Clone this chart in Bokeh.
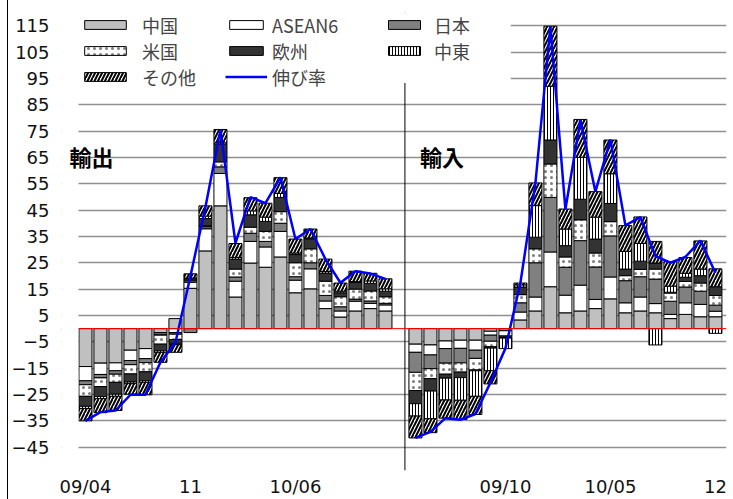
import numpy as np
from bokeh.plotting import figure
from bokeh.models import (Range1d, FixedTicker, Span, BoxAnnotation, Label,
                          Legend, LegendItem, ColumnDataSource)
from bokeh.embed import file_html
from bokeh.resources import INLINE

# ---------------- data ----------------
months = ["09/04", "09/05", "09/06", "09/07", "09/08", "09/09", "09/10", "09/11",
          "09/12", "10/01", "10/02", "10/03", "10/04", "10/05", "10/06", "10/07",
          "10/08", "10/09", "10/10", "10/11", "10/12"]
series_names = ["中国", "ASEAN6", "日本", "米国", "欧州", "中東", "その他"]

# exports (輸出) contributions
exp_china = [-14.4, -13.1, -13.0, -8.2, -7.6, -1.5, 3.8, 15.3, 29.5, 46.6, 12.0, 24.9, 23.3, 27.2, 13.6, 15.1, 7.6, 4.4, 6.7, 7.6, 6.7]
exp_asean = [-5.4, -4.3, -3.0, -3.9, -3.8, -0.6, -1.5, 2.3, 8.4, 12.3, 6.0, 8.2, 7.7, 9.7, 4.8, 7.6, 2.9, 2.3, 3.7, 2.0, 2.3]
exp_japan = [-1.5, -1.3, -1.3, -1.6, -1.5, -0.4, -0.6, -1.5, 0.8, 2.5, 1.6, 3.1, 2.1, 3.1, 1.3, 2.3, 2.1, 1.6, 0.8, 0.9, 0.6]
exp_us = [-4.4, -3.3, -3.1, -3.5, -3.5, -3.4, -2.1, 0.5, 0.3, 1.9, 3.0, 2.3, 3.8, 4.4, 5.3, 5.3, 5.4, 3.8, 3.8, 3.8, 2.5]
exp_eu = [-3.8, -3.8, -4.5, -3.1, -3.4, -2.5, -1.4, 0.8, 2.8, 6.7, 3.8, 4.7, 3.8, 5.4, 3.1, 3.8, 3.1, 1.5, 2.5, 2.9, 2.1]
exp_me = [-0.8, -0.8, -0.8, -0.6, -0.6, -0.6, -0.5, 0.3, 0.9, 0.5, 0.6, 1.5, 1.6, 1.5, 0.6, 0.3, 0.6, 0.6, 0.4, 0.9, 0.9]
exp_other = [-4.7, -5.3, -5.4, -4.0, -4.7, -3.8, -2.9, 1.6, 3.9, 5.1, 5.3, 5.0, 5.3, 6.0, 5.3, 3.4, 4.7, 3.1, 3.9, 2.9, 3.8]
exp_growth = [-35.0, -31.7, -31.1, -25.1, -25.1, -12.8, -5.3, 20.0, 46.2, 75.5, 32.5, 49.9, 47.6, 57.4, 34.0, 37.8, 26.4, 17.4, 21.8, 20.9, 18.9]

# imports (輸入) contributions
imp_china = [-5.9, -6.2, -4.7, -4.4, -4.4, -1.0, -0.8, 3.3, 6.7, 15.9, 6.0, 6.7, 7.6, 11.3, 6.0, 6.7, 6.0, 3.8, 5.4, 4.5, 4.5]
imp_asean = [-3.1, -3.8, -2.9, -3.1, -3.8, -1.5, -2.0, 3.0, 5.3, 13.2, 6.7, 9.8, 3.5, 8.3, 3.8, 5.3, 3.5, 1.6, 4.4, 4.7, 2.1]
imp_japan = [-7.6, -5.2, -5.5, -5.5, -3.1, -2.3, -0.3, 3.5, 13.0, 20.7, 10.6, 16.9, 12.3, 15.6, 8.4, 7.7, 9.3, 5.0, 6.0, 5.0, 2.3]
imp_us = [-6.9, -3.8, -4.2, -3.5, -4.4, -2.1, -0.3, 3.1, 5.3, 12.7, 3.9, 7.9, 5.3, 5.4, 1.9, 2.8, 3.8, 3.1, 2.1, 3.1, 3.7]
imp_eu = [-5.0, -4.7, -1.5, -2.1, -0.3, -0.5, -0.2, 2.9, 4.4, 9.1, 4.3, 7.8, 5.3, 6.9, 2.5, 3.1, 2.3, 0.3, 1.6, 2.8, 3.3]
imp_me = [-4.7, -10.5, -8.3, -8.6, -9.7, -8.6, -4.0, 0.8, 12.0, 20.4, 6.3, 15.9, 8.3, 11.3, 6.7, 6.7, -6.2, 2.3, 1.5, 2.5, -1.8]
imp_other = [-8.3, -5.3, -6.9, -7.3, -6.9, -5.0, 0.0, 0.7, 8.6, 22.8, 7.6, 14.4, 9.7, 12.8, 9.8, 10.1, 8.2, 9.3, 6.0, 10.7, 6.8]
imp_growth = [-41.5, -39.2, -34.0, -34.6, -32.4, -20.5, -7.5, 17.4, 55.2, 114.7, 45.3, 79.3, 52.0, 71.8, 39.2, 42.3, 27.5, 25.0, 27.2, 33.4, 21.2]

tick_labels = {0: "09/04", 7: "11", 14: "10/06", 28: "09/10", 35: "10/05", 42: "12"}
y_ticks = list(range(-45, 116, 10))

# ---------------- layout of slots ----------------
n = len(months)
x_exp = np.arange(n)
x_imp = np.arange(n) + n + 1
x_all = np.concatenate([x_exp, x_imp])

exp_series = [exp_china, exp_asean, exp_japan, exp_us, exp_eu, exp_me, exp_other]
imp_series = [imp_china, imp_asean, imp_japan, imp_us, imp_eu, imp_me, imp_other]

styles = [
    dict(fill_color="#c0c0c0", hatch_pattern=None),
    dict(fill_color="white", hatch_pattern=None),
    dict(fill_color="#808080", hatch_pattern=None),
    dict(fill_color="white", hatch_pattern="dot", hatch_color="black", hatch_scale=6, hatch_weight=0.2, hatch_alpha=0.5),
    dict(fill_color="#333333", hatch_pattern=None),
    dict(fill_color="white", hatch_pattern="vertical_line", hatch_color="black", hatch_scale=3, hatch_weight=1),
    dict(fill_color="white", hatch_pattern="right_diagonal_line", hatch_color="black", hatch_scale=7, hatch_weight=2),
]

vals = np.array([np.concatenate([e, i]) for e, i in zip(exp_series, imp_series)], dtype=float)
pos_cum = np.zeros(vals.shape[1])
neg_cum = np.zeros(vals.shape[1])

X0, X1 = -1.598, 42.74      # frame x-extent (slots)
BAR_LEFT = -0.466           # where the gridded area begins
Y0, Y1 = -53.86, 120

p = figure(width=725, height=499,
           x_range=Range1d(X0, X1), y_range=Range1d(Y0, Y1),
           output_backend="svg", toolbar_location=None,
           min_border_left=52, min_border_right=7, min_border_top=12, min_border_bottom=27)
p.outline_line_color = None
p.background_fill_color = "white"
p.styles = {"margin-left": "7px", "border-left": "1px solid black"}

renderers = []
for k, name in enumerate(series_names):
    v = vals[k]
    bottom = np.where(v >= 0, pos_cum, neg_cum + v)
    top = np.where(v >= 0, pos_cum + v, neg_cum)
    pos_cum = pos_cum + np.where(v >= 0, v, 0)
    neg_cum = neg_cum + np.where(v < 0, v, 0)
    src = ColumnDataSource(dict(x=x_all, bottom=bottom, top=top))
    r = p.vbar(x="x", width=0.87, bottom="bottom", top="top", source=src,
               line_color="black", line_width=1, **styles[k])
    renderers.append(r)

l1 = p.line(x_exp, exp_growth, line_color="#0000ff", line_width=2.5)
p.line(x_imp, imp_growth, line_color="#0000ff", line_width=2.5)

# axes
p.yaxis.ticker = FixedTicker(ticks=y_ticks)
p.xaxis.ticker = FixedTicker(ticks=list(tick_labels.keys()))
p.xaxis.major_label_overrides = tick_labels
for ax in (p.xaxis[0], p.yaxis[0]):
    ax.axis_line_color = None
    ax.major_tick_line_color = None
    ax.minor_tick_line_color = None
    ax.major_tick_out = 0
    ax.major_tick_in = 0
    ax.major_label_text_font = "DejaVu Sans"
    ax.major_label_text_font_size = "18px"
    ax.major_label_text_color = "#111111"
p.yaxis.major_label_standoff = 12
p.xaxis.major_label_standoff = 5
p.xgrid.grid_line_color = None
p.ygrid.grid_line_color = "#909090"
p.ygrid.grid_line_width = 1.3

# separator, zero line
p.add_layout(Span(location=21.3, dimension="height", line_color="black", line_width=1))
p.add_layout(Span(location=0, dimension="width", line_color="red", line_width=1))

# white masks: left margin strip and legend background
p.add_layout(BoxAnnotation(left=X0, right=BAR_LEFT, bottom=Y0, top=Y1,
                           fill_color="white", fill_alpha=1, line_alpha=0))
p.add_layout(BoxAnnotation(left=X0, right=28.36, bottom=93.2, top=Y1,
                           fill_color="white", fill_alpha=1, line_alpha=0))

# panel titles
for xx, txt in ((-1.065, "輸出"), (22.3, "輸入")):
    p.add_layout(Label(x=xx, y=65.6, text=txt, text_font="Noto Sans CJK JP",
                       text_font_size="22px", text_font_style="bold",
                       text_baseline="middle", text_align="left", text_color="black"))

def make_legend(items, loc, gw, standoff):
    lg = Legend(items=items, location=loc, orientation="vertical",
                glyph_width=gw, glyph_height=11, label_standoff=standoff,
                label_text_font="Noto Sans CJK JP", label_text_font_size="18px",
                label_height=26, spacing=0, padding=0, margin=0,
                background_fill_alpha=0, border_line_alpha=0)
    p.add_layout(lg)

make_legend([LegendItem(label="中国", renderers=[renderers[0]]),
             LegendItem(label="米国", renderers=[renderers[3]]),
             LegendItem(label="その他", renderers=[renderers[6]])], (18, 380.5), 52, 11)
make_legend([LegendItem(label="ASEAN6", renderers=[renderers[1]]),
             LegendItem(label="欧州", renderers=[renderers[4]]),
             LegendItem(label="伸び率", renderers=[l1])], (164, 380.5), 42, 5)
make_legend([LegendItem(label="日本", renderers=[renderers[2]]),
             LegendItem(label="中東", renderers=[renderers[5]])], (323, 406.5), 40, 10)

open("out.html", "w").write(file_html(p, INLINE))
